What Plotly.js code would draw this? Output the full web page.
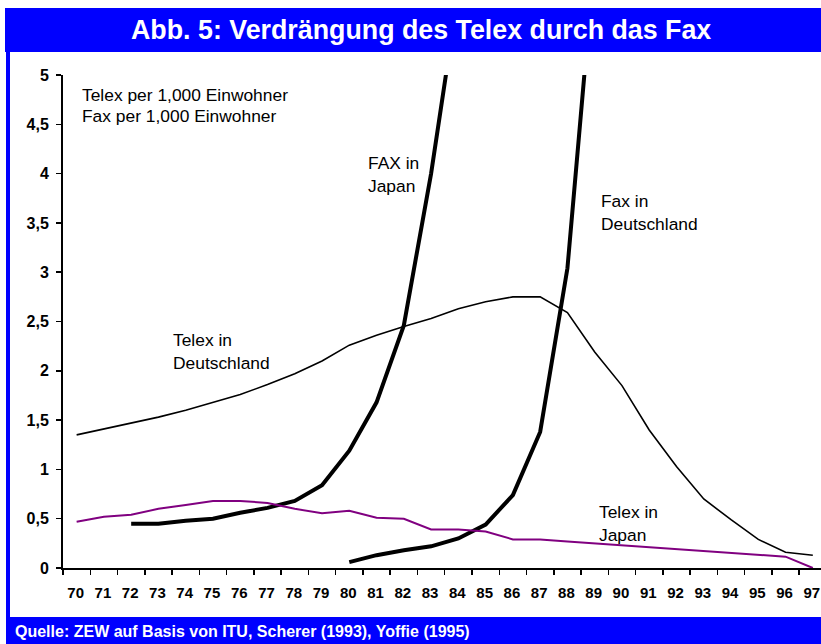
<!DOCTYPE html>
<html>
<head>
<meta charset="utf-8">
<script src="https://cdn.plot.ly/plotly-3.0.1.min.js"></script>
<style>html,body{margin:0;padding:0;background:#fff;}#chart{width:821px;height:644px;}</style>
</head>
<body>
<div id="chart"></div>
<script>
// ---- data ----
const years = ['70','71','72','73','74','75','76','77','78','79','80','81','82','83','84','85','86','87','88','89','90','91','92','93','94','95','96','97'];
const telexDE = [1.35,1.41,1.47,1.53,1.60,1.68,1.76,1.86,1.97,2.10,2.26,2.36,2.45,2.53,2.63,2.70,2.75,2.75,2.59,2.19,1.85,1.40,1.03,0.70,0.49,0.29,0.16,0.13];
const faxJPYears = ['72','73','74','75','76','77','78','79','80','81','82','83','84'];
const faxJP = [0.45,0.45,0.48,0.50,0.56,0.61,0.68,0.84,1.19,1.68,2.46,4.00,5.84];
const faxDEYears = ['80','81','82','83','84','85','86','87','88','89'];
const faxDE = [0.06,0.13,0.18,0.22,0.30,0.44,0.74,1.38,3.04,6.20];
const telexJP = [0.47,0.52,0.54,0.60,0.64,0.68,0.68,0.66,0.60,0.555,0.58,0.51,0.50,0.39,0.39,0.37,0.29,0.29,0.27,0.25,0.23,0.21,0.19,0.175,0.155,0.135,0.115,0.0];

const titleText = 'Abb. 5: Verdrängung des Telex durch das Fax';
const sourceText = 'Quelle: ZEW auf Basis von ITU, Scherer (1993), Yoffie (1995)';
const unitLines = ['Telex per 1,000 Einwohner', 'Fax per 1,000 Einwohner'];

// ---- geometry helpers (pixel -> paper) ----
const W = 821, H = 644;
const L = 63, R = 0, T = 75, B = 76;
const pw = W - L - R, ph = H - T - B;
const px = x => (x - L) / pw;
const py = y => (H - B - y) / ph;

const FONT = 'Liberation Sans, Arial, Helvetica, sans-serif';
const BLUE = '#0000FF';

const traces = [
  {x: years, y: telexDE, type: 'scatter', mode: 'lines', name: 'Telex in Deutschland',
   line: {color: '#000000', width: 1.6}},
  {x: faxJPYears, y: faxJP, type: 'scatter', mode: 'lines', name: 'FAX in Japan',
   line: {color: '#000000', width: 4}},
  {x: faxDEYears, y: faxDE, type: 'scatter', mode: 'lines', name: 'Fax in Deutschland',
   line: {color: '#000000', width: 4}},
  {x: years, y: telexJP, type: 'scatter', mode: 'lines', name: 'Telex in Japan',
   line: {color: '#800080', width: 2}}
];

function lbl(text, x, y, opts) {
  return Object.assign({
    text: text, xref: 'paper', yref: 'paper', x: px(x), y: py(y),
    xanchor: 'left', yanchor: 'middle', showarrow: false,
    font: {family: FONT, size: 17.4, color: '#000000'}
  }, opts || {});
}

const annotations = [
  {text: '<b>' + titleText + '</b>', xref: 'paper', yref: 'paper', x: px(421), y: py(30),
   xanchor: 'center', yanchor: 'middle', showarrow: false,
   font: {family: FONT, size: 26.8, color: '#FFFFFF'}},
  {text: '<b>' + sourceText + '</b>', xref: 'paper', yref: 'paper', x: px(13), y: py(631),
   xanchor: 'left', yanchor: 'middle', showarrow: false,
   font: {family: FONT, size: 16, color: '#FFFFFF'}},
  lbl(unitLines[0], 80, 95),
  lbl(unitLines[1], 80, 116),
  lbl('FAX in', 366, 163),
  lbl('Japan', 366, 186),
  lbl('Fax in', 599, 201),
  lbl('Deutschland', 599, 224),
  lbl('Telex in', 171, 340),
  lbl('Deutschland', 171, 363),
  lbl('Telex in', 597, 512),
  lbl('Japan', 597, 535)
];

const shapes = [
  {type: 'rect', xref: 'paper', yref: 'paper', x0: px(5), x1: px(821), y0: py(52), y1: py(8),
   fillcolor: BLUE, line: {width: 0}, layer: 'below'},
  {type: 'rect', xref: 'paper', yref: 'paper', x0: px(6), x1: px(10), y0: py(620), y1: py(50),
   fillcolor: BLUE, line: {width: 0}, layer: 'below'},
  {type: 'rect', xref: 'paper', yref: 'paper', x0: px(6), x1: px(821), y0: py(644), y1: py(617),
   fillcolor: BLUE, line: {width: 0}, layer: 'below'}
];

const layout = {
  width: W, height: H,
  margin: {l: L, r: R, t: T, b: B, pad: 0},
  paper_bgcolor: '#FFFFFF', plot_bgcolor: '#FFFFFF',
  showlegend: false,
  separators: ',.',
  font: {family: FONT, color: '#000000'},
  xaxis: {
    type: 'category', categoryorder: 'array', categoryarray: years,
    range: [-0.5, 27.3], tickson: 'boundaries', tickangle: 0,
    showgrid: false, zeroline: false, showline: true, linecolor: '#000000', linewidth: 2,
    ticks: 'outside', ticklen: 5, tickwidth: 1.5, tickcolor: '#000000',
    tickfont: {family: FONT, size: 15, color: '#000000', weight: 'bold'},
    ticklabelstandoff: 10, ticklabelshift: -1,
    automargin: false, fixedrange: true
  },
  yaxis: {
    range: [0, 5], dtick: 0.5, tick0: 0,
    showgrid: false, zeroline: false, showline: true, linecolor: '#000000', linewidth: 2,
    ticks: 'outside', ticklen: 5, tickwidth: 1.5, tickcolor: '#000000',
    tickfont: {family: FONT, size: 16, color: '#000000', weight: 'bold'},
    ticklabelstandoff: 4,
    automargin: false, fixedrange: true
  },
  annotations: annotations,
  shapes: shapes
};

Plotly.newPlot('chart', traces, layout, {staticPlot: true, displayModeBar: false});
</script>
</body>
</html>
